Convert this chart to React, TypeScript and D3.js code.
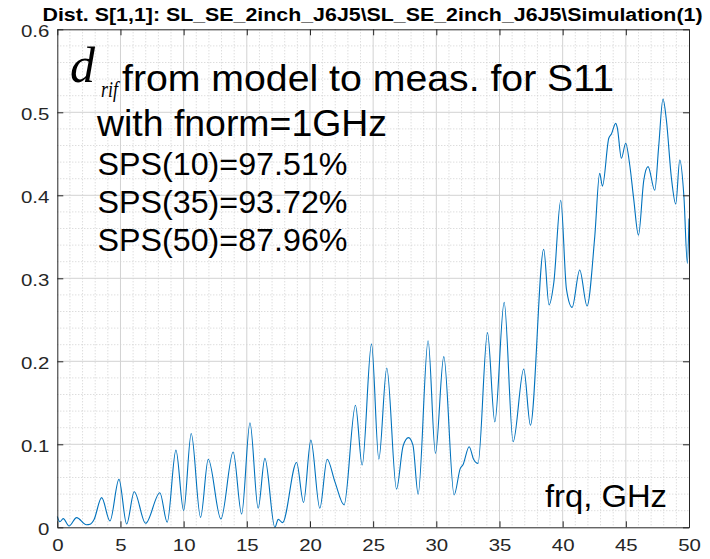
import React, { useEffect, useRef } from 'react';
import * as d3 from 'd3';

// frequency (GHz) and distance values
const freq = [
  0, 0.2, 0.47, 0.93, 1.53, 2.3, 2.6, 2.9, 3.51, 4.17, 4.88, 5.49, 6.09, 6.99, 8.12, 8.7,
  9.39, 10.0, 10.6, 11.34, 11.95, 12.95, 13.92, 14.59, 15.25, 15.9, 16.43, 17.22, 17.49, 17.83,
  18.94, 19.49, 20.07, 20.78, 21.36, 21.97, 22.7, 23.6, 24.13, 24.87, 25.45, 26.08, 26.85,
  27.37, 27.8, 28.15, 28.56, 29.35, 29.93, 30.59, 31.41, 31.9, 32.1, 32.6, 32.95, 33.3,
  34.05, 34.63, 35.37, 36.08, 36.92, 37.45, 38.5, 38.92, 39.3, 39.85, 40.3, 40.75, 41.35,
  41.93, 42.54, 42.93, 43.15, 43.65, 43.86, 44.2, 44.33, 44.65, 44.99, 45.31, 45.62, 46.0,
  46.42, 46.76, 47.29, 47.6, 47.94, 48.21, 48.6, 48.95, 49.27, 49.6, 49.87, 50.0
];
const dist = [
  0.013, 0.0067, 0.0104, 0.0016, 0.0116, 0.003, 0.0036, 0.009, 0.0357, 0.0076, 0.0578, 0.004, 0.0429, 0.0048, 0.0417, 0.006,
  0.093, 0.02, 0.113, 0.012, 0.082, 0.01, 0.0907, 0.016, 0.126, 0.023, 0.083, 0.0, 0.0096, 0.0056,
  0.078, 0.03, 0.105, 0.023, 0.082, 0.055, 0.027, 0.147, 0.075, 0.221, 0.082, 0.192, 0.046,
  0.098, 0.108, 0.099, 0.04, 0.2248, 0.089, 0.2056, 0.039, 0.071, 0.075, 0.097, 0.082, 0.077,
  0.2345, 0.127, 0.271, 0.103, 0.1907, 0.123, 0.335, 0.268, 0.295, 0.394, 0.287, 0.265, 0.31,
  0.2666, 0.35, 0.4265, 0.411, 0.4687, 0.4739, 0.4867, 0.481, 0.4446, 0.4627, 0.4365, 0.396, 0.352,
  0.418, 0.4345, 0.406, 0.4586, 0.516, 0.4907, 0.422, 0.3895, 0.4425, 0.398, 0.318, 0.372
];

const xTicks = [0, 5, 10, 15, 20, 25, 30, 35, 40, 45, 50];
const yTicks = [0, 0.1, 0.2, 0.3, 0.4, 0.5, 0.6];
const titleText = 'Dist. S[1,1]: SL_SE_2inch_J6J5\\SL_SE_2inch_J6J5\\Simulation(1)';
const headLine = 'from model to meas. for S11';
const normLine = 'with fnorm=1GHz';
const spsLines = ['SPS(10)=97.51%', 'SPS(35)=93.72%', 'SPS(50)=87.96%'];
const xLabel = 'frq, GHz';

const W = 710;
const H = 559;
const margin = { top: 29.3, right: 21, bottom: 31.7, left: 57.3 };
const axisColor = '#262626';
const sans = '"Liberation Sans", Arial, sans-serif';
const serif = '"Liberation Serif", "Times New Roman", serif';

export default function App() {
  const ref = useRef<SVGSVGElement>(null);

  useEffect(() => {
    const svg = d3.select(ref.current);
    svg.selectAll('*').remove();

    const iw = W - margin.left - margin.right;
    const ih = H - margin.top - margin.bottom;
    const x = d3.scaleLinear().domain([0, 50]).range([0, iw]);
    const y = d3.scaleLinear().domain([0, 0.6]).range([ih, 0]);

    const g = svg.append('g').attr('transform', `translate(${margin.left},${margin.top})`);

    // minor grid (dotted)
    const minorX = d3.range(0, 51).filter((d) => d % 5 !== 0);
    const minorY = d3.range(1, 30).map((d) => d * 0.02).filter((_, i) => (i + 1) % 5 !== 0);
    g.append('g').selectAll('line').data(minorX).enter().append('line')
      .attr('x1', (d) => x(d)).attr('x2', (d) => x(d)).attr('y1', 0).attr('y2', ih)
      .attr('stroke', '#cfcfcf').attr('stroke-dasharray', '1,2');
    g.append('g').selectAll('line').data(minorY).enter().append('line')
      .attr('y1', (d) => y(d)).attr('y2', (d) => y(d)).attr('x1', 0).attr('x2', iw)
      .attr('stroke', '#cfcfcf').attr('stroke-dasharray', '1,2');

    // major grid
    g.append('g').selectAll('line').data(xTicks.slice(1, -1)).enter().append('line')
      .attr('x1', (d) => x(d)).attr('x2', (d) => x(d)).attr('y1', 0).attr('y2', ih)
      .attr('stroke', '#d2d2d2');
    g.append('g').selectAll('line').data(yTicks.slice(1, -1)).enter().append('line')
      .attr('y1', (d) => y(d)).attr('y2', (d) => y(d)).attr('x1', 0).attr('x2', iw)
      .attr('stroke', '#d2d2d2');

    // data line
    const points = freq.map((f, i) => [f, dist[i]] as [number, number]);
    const line = d3.line<[number, number]>()
      .x((d) => x(d[0]))
      .y((d) => y(d[1]))
      .curve(d3.curveMonotoneX);
    g.append('path')
      .datum(points)
      .attr('d', line)
      .attr('fill', 'none')
      .attr('stroke', '#0072BD')
      .attr('stroke-width', 1.1);

    // axes, ticks pointing inward on all four sides
    const stretch = (sel: any, k: number) => sel.each(function (this: SVGTextElement) {
      const l = this.getComputedTextLength();
      this.setAttribute('textLength', String(l * k));
      this.setAttribute('lengthAdjust', 'spacingAndGlyphs');
    });

    const xAxis = g.append('g').attr('transform', `translate(0,${ih})`)
      .call(d3.axisBottom(x).tickValues(xTicks).tickSizeInner(-6).tickSizeOuter(0).tickPadding(12));
    const yAxis = g.append('g')
      .call(d3.axisLeft(y).tickValues(yTicks).tickSizeInner(-6).tickSizeOuter(0).tickPadding(8)
        .tickFormat((d) => String(d)));
    const xTop = g.append('g')
      .call(d3.axisTop(x).tickValues(xTicks).tickSizeInner(-6).tickSizeOuter(0).tickFormat(() => ''));
    const yRight = g.append('g').attr('transform', `translate(${iw},0)`)
      .call(d3.axisRight(y).tickValues(yTicks).tickSizeInner(-6).tickSizeOuter(0).tickFormat(() => ''));

    [xAxis, yAxis, xTop, yRight].forEach((a) => {
      a.select('.domain').attr('stroke', axisColor);
      a.selectAll('.tick line').attr('stroke', axisColor);
      a.selectAll('text').attr('fill', axisColor).attr('font-family', sans).attr('font-size', 17);
    });
    stretch(xAxis.selectAll('text'), 1.2);
    stretch(yAxis.selectAll('text').attr('dy', '0.42em'), 1.2);

    // title
    svg.append('text')
      .attr('x', 372.5).attr('y', 21)
      .attr('text-anchor', 'middle')
      .attr('font-family', sans).attr('font-weight', 'bold').attr('font-size', 18)
      .attr('fill', '#000')
      .attr('textLength', 660).attr('lengthAdjust', 'spacingAndGlyphs')
      .text(titleText);

    // d_rif annotation
    svg.append('text')
      .attr('x', 70).attr('y', 82)
      .attr('font-family', serif)
      .attr('font-style', 'italic').attr('font-size', 50)
      .text('d');
    svg.append('text')
      .attr('x', 101).attr('y', 97)
      .attr('font-family', serif)
      .attr('font-style', 'italic').attr('font-size', 23)
      .attr('textLength', 17).attr('lengthAdjust', 'spacingAndGlyphs')
      .text('rif');

    const note = (txt: string, tx: number, ty: number, size: number, len: number) =>
      svg.append('text')
        .attr('x', tx).attr('y', ty)
        .attr('font-family', sans).attr('font-size', size).attr('fill', '#000')
        .attr('textLength', len).attr('lengthAdjust', 'spacingAndGlyphs')
        .text(txt);

    note(headLine, 122, 91, 37, 492);
    note(normLine, 97, 135.5, 36, 290);
    spsLines.forEach((s, i) => note(s, 97.5, 175 + i * 38, 30.5, 250));
    note(xLabel, 545, 507, 31, 122);
  }, []);

  return (
    <svg
      ref={ref}
      width={W}
      height={H}
      style={{ position: 'absolute', left: 0, top: 0, background: '#fff' }}
    />
  );
}
